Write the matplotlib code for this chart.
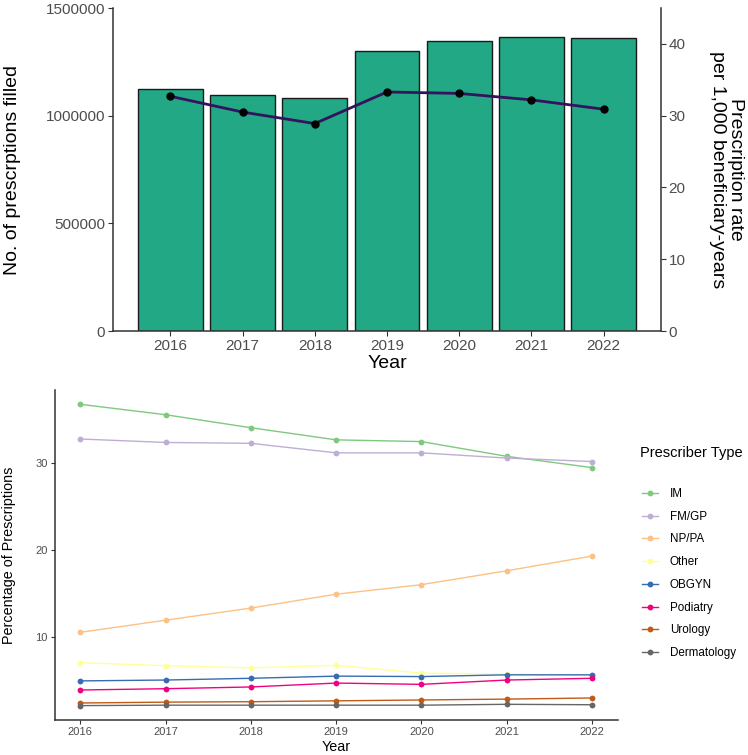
import matplotlib
matplotlib.use("Agg")
import matplotlib.pyplot as plt
from matplotlib.lines import Line2D

plt.rcParams['font.family'] = ['Liberation Sans', 'DejaVu Sans']

# ---- data ----
years = [2016, 2017, 2018, 2019, 2020, 2021, 2022]
rx_filled = [1126000, 1097000, 1083000, 1302000, 1345000, 1364000, 1361000]
rx_rate = [32.7, 30.5, 28.9, 33.3, 33.1, 32.2, 30.9]

prescriber_types = ["IM", "FM/GP", "NP/PA", "Other", "OBGYN", "Podiatry", "Urology", "Dermatology"]
pct_im = [36.8, 35.6, 34.1, 32.7, 32.5, 30.8, 29.5]
pct_fmgp = [32.8, 32.4, 32.3, 31.2, 31.2, 30.6, 30.2]
pct_nppa = [10.5, 11.9, 13.3, 14.9, 16.0, 17.6, 19.3]
pct_other = [7.0, 6.65, 6.4, 6.7, 5.8, 5.7, 5.5]
pct_obgyn = [4.9, 5.0, 5.2, 5.45, 5.4, 5.6, 5.6]
pct_podiatry = [3.85, 4.0, 4.2, 4.65, 4.5, 5.0, 5.2]
pct_urology = [2.35, 2.45, 2.5, 2.6, 2.7, 2.8, 2.93]
pct_derm = [2.05, 2.1, 2.1, 2.1, 2.1, 2.2, 2.15]
series = [pct_im, pct_fmgp, pct_nppa, pct_other, pct_obgyn, pct_podiatry, pct_urology, pct_derm]
colors = ["#7FC97F", "#BEAED4", "#FDC086", "#FFFF99", "#386CB0", "#F0027F", "#BF5B17", "#666666"]

W, H = 748, 755
fig = plt.figure(figsize=(W / 100, H / 100), dpi=100)

def rect(l, t, r, b):
    return [l / W, 1 - b / H, (r - l) / W, (b - t) / H]

tick_col = "#4D4D4D"
spine_col = "#333333"

# ---- top panel ----
ax1 = fig.add_axes(rect(113, 8, 661, 331))
ax1.bar(years, rx_filled, width=0.9, color="#22A884", edgecolor="#1a1a1a", linewidth=1.0, zorder=2)
ax1.set_xlim(2015.205, 2022.795)
ax1.set_ylim(0, 1500000)
ax1.set_yticks([0, 500000, 1000000, 1500000])
ax1.set_yticklabels(["0", "500000", "1000000", "1500000"])
ax1.set_xticks(years)
ax1.set_xticklabels([str(y) for y in years])
ax1.tick_params(labelsize=11, colors=spine_col, labelcolor=tick_col, length=3.5, width=0.8, pad=2)
for s in ["top", "right"]:
    ax1.spines[s].set_visible(False)
for s in ["left", "bottom"]:
    ax1.spines[s].set_color(spine_col)
    ax1.spines[s].set_linewidth(1.1)
ax1.set_ylabel("No. of prescrptions filled", fontsize=14, va="center", ha="center")
ax1.yaxis.set_label_coords(-0.184, 0.5)
ax1.set_xlabel("Year", fontsize=14, labelpad=2)

ax2 = ax1.twinx()
ax2.set_ylim(0, 45)
ax2.set_yticks([0, 10, 20, 30, 40])
ax2.plot(years, rx_rate, color="#33135E", linewidth=2.0, marker="o", markersize=5,
         markerfacecolor="black", markeredgecolor="black", zorder=3)
for s in ["top", "left", "bottom"]:
    ax2.spines[s].set_visible(False)
ax2.spines["right"].set_color(spine_col)
ax2.spines["right"].set_linewidth(1.1)
ax2.tick_params(labelsize=11, colors=spine_col, labelcolor=tick_col, length=3.5, width=0.8, pad=2)
ax2.set_ylabel("Prescription rate\nper 1,000 beneficiary-years", fontsize=14, rotation=270,
               va="center", ha="center", linespacing=1.05)
ax2.yaxis.set_label_coords(1.12, 0.5)

# ---- bottom panel ----
ax3 = fig.add_axes(rect(54.6, 390, 617.7, 720))
for name, vals, c in zip(prescriber_types, series, colors):
    ax3.plot(years, vals, color=c, linewidth=1.0, marker="o", markersize=4.2,
             markeredgewidth=0, label=name)
ax3.set_xlim(2015.7, 2022.3)
ax3.set_ylim(0.39, 38.45)
ax3.set_yticks([10, 20, 30])
ax3.set_xticks(years)
ax3.tick_params(labelsize=8, colors=spine_col, labelcolor=tick_col, length=3, width=0.8, pad=2)
for s in ["top", "right"]:
    ax3.spines[s].set_visible(False)
for s in ["left", "bottom"]:
    ax3.spines[s].set_color(spine_col)
    ax3.spines[s].set_linewidth(1.1)
ax3.set_ylabel("Percentage of Prescriptions", fontsize=10.4, va="center", ha="center")
ax3.yaxis.set_label_coords(-0.081, 0.5)
ax3.set_xlabel("Year", fontsize=10.4, labelpad=2)

fig.text(640 / W, 1 - 453 / H, "Prescriber Type", fontsize=10.5, ha="left", va="center")
handles = [Line2D([0], [0], color=c, linewidth=1.0, marker="o", markersize=4.2, markeredgewidth=0)
           for c in colors]
leg = fig.legend(handles, prescriber_types, loc="upper left",
                 bbox_to_anchor=(642 / W, 1 - 488 / H), frameon=False, fontsize=8.4,
                 handlelength=1.4, handletextpad=1.0, labelspacing=0.92, borderpad=0,
                 borderaxespad=0)

fig.savefig("out.png", dpi=100)
